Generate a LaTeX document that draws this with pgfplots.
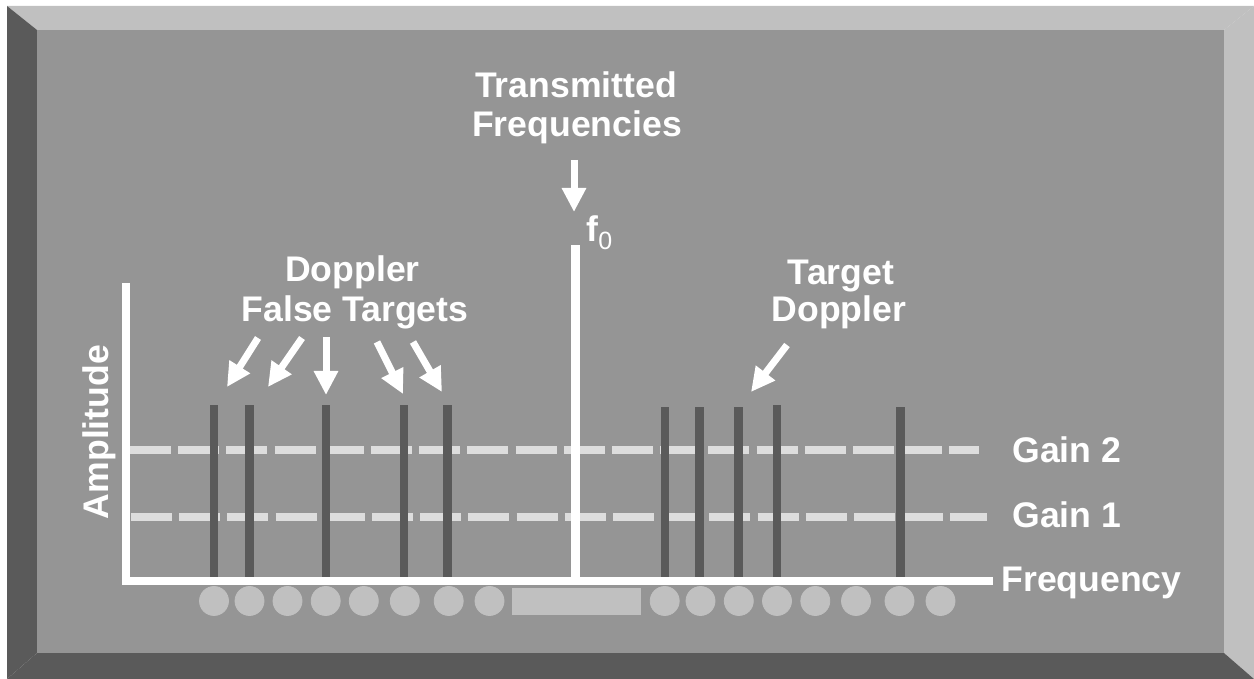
\documentclass[border=0pt]{standalone}
\usepackage{fontspec}
\setmainfont{Liberation Sans}
\usepackage{pgfplots}
\pgfplotsset{compat=1.18}
\usetikzlibrary{arrows.meta}
\definecolor{panel}{RGB}{149,149,149}
\definecolor{bevellight}{RGB}{192,192,192}
\definecolor{beveldark}{RGB}{90,90,90}
\definecolor{bardark}{RGB}{90,90,90}
\definecolor{gaingray}{RGB}{221,221,221}

\begin{document}
\begin{tikzpicture}[
  lbl/.style={inner sep=0pt, text=white,
    font=\fontsize{17.8}{19.5}\selectfont\bfseries}]
\begin{axis}[
  scale only axis, width=627pt, height=339.5pt,
  xmin=0, xmax=1254, ymin=-98, ymax=581,
  hide axis, clip=false,
  arr/.style={white, line width=3.5pt, -{Triangle[width=11.5pt,length=12pt]}}
]
% frame
\addplot[fill=white, draw=none] coordinates {(0,-98)(1254,-98)(1254,581)(0,581)} -- cycle;
\addplot[fill=bevellight, draw=none] coordinates {(7,575)(1254,575)(1224,551)(37,551)} -- cycle;
\addplot[fill=bevellight, draw=none] coordinates {(1254,575)(1254,-98)(1224,-72)(1224,551)} -- cycle;
\addplot[fill=beveldark, draw=none] coordinates {(7,575)(37,551)(37,-72)(7,-98)} -- cycle;
\addplot[fill=beveldark, draw=none] coordinates {(7,-98)(37,-72)(1224,-72)(1254,-98)} -- cycle;
\addplot[fill=panel, draw=none] coordinates {(37,551)(1224,551)(1224,-72)(37,-72)} -- cycle;

% gain thresholds
\addplot[gaingray, line width=4pt, dash pattern=on 20.5pt off 3.6pt] coordinates {(130,131)(979,131)};
\addplot[gaingray, line width=4pt, dash pattern=on 20.5pt off 3.6pt] coordinates {(131,63.5)(987,63.5)};

% doppler false targets
\addplot[ycomb, bardark, line width=4.3pt] coordinates {(214,176)(249.5,176)(326,176)(404,176)(447.5,176)};
% target doppler lines
\addplot[ycomb, bardark, line width=4.3pt] coordinates {(665,174.3)(699.5,174.3)(738.7,174.3)(777,176)(900.5,174.3)};
% transmitted f0
\addplot[ycomb, white, line width=4.5pt] coordinates {(575.5,336)};

% axes
\addplot[white, line width=4pt, line join=miter] coordinates {(125.7,298)(125.7,0)(993,0)};

% bins
\addplot[only marks, mark=*, mark size=7.25pt, color=bevellight] coordinates {
  (214,-20)(249.5,-20)(287.5,-20)(325.7,-20)(363.8,-20)(404.8,-20)(448.7,-20)(489.5,-20)
  (664.7,-20)(700.5,-20)(738.8,-20)(777,-20)(815.3,-20)(856,-20)(899.5,-20)(940.5,-20)};
\addplot[fill=bevellight, draw=none] coordinates {(512,-7)(641,-7)(641,-34)(512,-34)} -- cycle;

% arrows
\addplot[arr] coordinates {(574,421)(574,369)};
\addplot[arr] coordinates {(258,243)(227,194)};
\addplot[arr] coordinates {(302,243)(268,194)};
\addplot[arr] coordinates {(326,244)(326,186)};
\addplot[arr] coordinates {(377,239)(403,187)};
\addplot[arr] coordinates {(413,239)(442,189)};
\addplot[arr] coordinates {(787,236)(751,189)};

% labels
\node[lbl, anchor=base] at (axis cs:576,483) {Transmitted};
\node[lbl, anchor=base] at (axis cs:577,444) {Frequencies};
\node[lbl, anchor=base] at (axis cs:352.5,299) {Doppler};
\node[lbl, anchor=base] at (axis cs:355,259) {False Targets};
\node[lbl, anchor=base] at (axis cs:841,296) {Target};
\node[lbl, anchor=base] at (axis cs:839,259) {Doppler};
\node[lbl, anchor=base west] at (axis cs:586,339) {f\raisebox{-4pt}{\fontsize{12.5}{12}\selectfont\mdseries 0}};
\node[lbl, anchor=base west] at (axis cs:1012,118) {Gain 2};
\node[lbl, anchor=base west] at (axis cs:1012,53) {Gain 1};
\node[lbl, anchor=base west] at (axis cs:1001,-11) {Frequency};
\node[lbl, anchor=base, rotate=90] at (axis cs:108,149) {Amplitude};
\end{axis}
\end{tikzpicture}
\end{document}
